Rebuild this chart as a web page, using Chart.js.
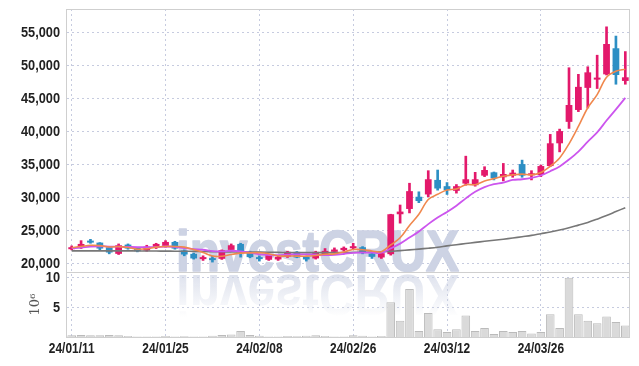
<!DOCTYPE html>
<html><head><meta charset="utf-8">
<script src="https://cdn.jsdelivr.net/npm/chart.js@4.4.1/dist/chart.umd.min.js"></script>
<style>html,body{margin:0;padding:0;background:#fff}#wrap{width:639px;height:366px;position:relative}</style>
</head><body><div id="wrap"><canvas id="c"></canvas></div>
<script>
const dates = ['24/01/11','24/01/12','24/01/15','24/01/16','24/01/17','24/01/18','24/01/19','24/01/22','24/01/23','24/01/24',
'24/01/25','24/01/26','24/01/29','24/01/30','24/01/31','24/02/01','24/02/02','24/02/05','24/02/06','24/02/07',
'24/02/08','24/02/13','24/02/14','24/02/15','24/02/16','24/02/19','24/02/20','24/02/21','24/02/22','24/02/23',
'24/02/26','24/02/27','24/02/28','24/02/29','24/03/04','24/03/05','24/03/06','24/03/07','24/03/08','24/03/11',
'24/03/12','24/03/13','24/03/14','24/03/15','24/03/18','24/03/19','24/03/20','24/03/21','24/03/22','24/03/25',
'24/03/26','24/03/27','24/03/28','24/03/29','24/04/01','24/04/02','24/04/03','24/04/04','24/04/05','24/04/08'];
const open  = [22100,22400,23300,23100,22400,21400,22800,22300,21900,22300,22600,23200,21900,21400,20600,20600,20650,22000,22900,21650,
20900,20500,20550,20950,21700,20950,20700,21300,21700,21950,22250,22400,21450,20850,21350,27400,28200,30050,30400,32600,
31650,30950,32050,31800,33250,33750,33000,33250,35000,33300,33350,34700,38150,41400,43200,46550,47800,48600,52550,47600];
const high  = [22600,23400,23600,23100,22400,22900,22900,22300,22700,23000,23400,23300,22000,21500,21100,21050,22000,22900,23000,21800,
21100,21300,21100,21800,21750,21000,21800,22200,22300,22450,23000,22500,21500,21600,27400,28800,32100,30800,34000,34100,
32200,31900,36200,33750,34600,33800,35100,34100,35600,34000,34850,39500,40300,49600,48600,49750,51500,55800,54400,52050];
const low   = [22000,22200,23000,22000,21400,21300,22100,21700,21800,22200,22400,22100,21100,20600,20400,20150,20550,21900,20900,20800,
20300,20400,20400,20850,20800,20300,20600,21200,21600,21800,22100,21400,20700,20700,21200,26050,27600,29150,30050,31050,
30400,30600,31800,31650,33100,32600,32450,33000,33000,32600,33100,34600,36850,40400,42950,43500,46450,48500,47100,47100];
const close = [22400,22900,23100,22200,21600,22700,22200,21800,22500,22900,23200,22200,21300,20700,20750,20450,21950,22700,21700,20900,
20600,21200,20950,21700,20850,20550,21700,21850,22050,22300,22400,21500,20950,21500,27400,27800,30900,29400,32700,31300,
31050,31650,32700,32700,34100,32850,33500,33700,33250,33550,34700,38150,40000,43950,46700,48900,48100,53200,48500,48150];
const ma5   = [22350,22500,22700,22650,22440,22500,22360,22100,22160,22420,22520,22520,22420,22060,21620,21080,21030,21310,21510,21550,
21570,21420,21070,21070,21060,21050,21150,21330,21400,21690,22060,22020,21840,21730,22750,23830,25710,27400,29640,30420,
31070,31220,31880,31880,32440,32800,33170,33370,33480,33370,33740,34670,35930,38070,40700,43540,45530,48170,49080,49370];
const ma10  = [22250,22350,22500,22550,22500,22480,22450,22420,22420,22430,22510,22440,22260,22110,22020,21800,21775,21865,21785,21585,
21325,21225,21190,21290,21305,21310,21285,21200,21235,21375,21555,21585,21585,21565,22220,22945,23865,24800,25900,26900,
27750,28700,29800,30800,31500,31950,32200,32600,32700,32900,33270,33920,34650,35700,36900,38400,39800,41600,43300,45035];
const maLong = [21850,21850,21850,21850,21850,21850,21850,21840,21830,21820,21810,21800,21790,21770,21750,21730,21710,21700,21690,21680,
21660,21640,21620,21600,21590,21580,21580,21580,21590,21600,21620,21640,21660,21690,21780,21880,22000,22120,22250,22400,
22600,22780,22960,23130,23300,23460,23620,23800,24000,24200,24450,24700,25000,25350,25750,26150,26650,27200,27800,28400];
const volume = [0.3,0.35,0.3,0.3,0.35,0.3,0.15,0.1,0.1,0.1,0.15,0.1,0.12,0.1,0.1,0.2,0.35,0.4,1.0,0.35,
0.2,0.1,0.1,0.15,0.12,0.2,0.3,0.15,0.1,0.1,0.3,0.2,0.1,0.15,5.8,2.7,8.0,1.0,4.0,1.3,
0.85,1.3,3.6,1.0,1.5,0.5,1.0,0.85,1.0,0.6,0.85,3.8,1.5,9.9,3.8,2.7,2.3,3.4,2.5,1.9];
const priceTicks = [20000,25000,30000,35000,40000,45000,50000,55000];
const volumeTicks = [5,10];
const WATERMARK = 'investCRUX';

const UP = '#E3196B', DOWN = '#2D8FC4';
const candleColor = open.map((o,i) => close[i] >= o ? UP : DOWN);
const GRID = '#C6CBDF';

function narrowText(ctx, t, x, y, align, size) {
  ctx.save();
  ctx.font = 'bold ' + size + 'px "Liberation Sans", Arial, sans-serif';
  ctx.textBaseline = 'middle';
  ctx.textAlign = align;
  ctx.translate(x, y);
  ctx.scale(0.85, 1);
  ctx.fillText(t, 0, 0);
  ctx.restore();
}

const wmPlugin = {
  id: 'wm',
  beforeDatasetsDraw(chart) {
    const ctx = chart.ctx;
    ctx.save();
    ctx.font = 'bold 57px "Liberation Sans", sans-serif';
    const w = ctx.measureText(WATERMARK).width;
    ctx.translate(176, 271);
    ctx.scale(283 / w, 1);
    ctx.fillStyle = 'rgb(205,211,228)';
    ctx.strokeStyle = 'rgb(205,211,228)';
    ctx.lineWidth = 1.6;
    ctx.lineJoin = 'round';
    ctx.fillText(WATERMARK, 0, 0);
    ctx.strokeText(WATERMARK, 0, 0);
    ctx.scale(1, -1);
    const g = ctx.createLinearGradient(0, -4, 0, -46);
    g.addColorStop(0, 'rgba(205,211,228,0.65)');
    g.addColorStop(1, 'rgba(205,211,228,0.0)');
    ctx.fillStyle = g;
    ctx.fillText(WATERMARK, 0, -4);
    ctx.restore();
  }
};
const framePlugin = {
  id: 'frame',
  afterDraw(chart) {
    const ctx = chart.ctx, ca = chart.chartArea;
    ctx.save();
    ctx.strokeStyle = '#CFCFCF';
    ctx.lineWidth = 1;
    ['y','yv'].forEach(id => {
      const s = chart.scales[id];
      ctx.strokeRect(Math.round(ca.left) - 0.5, Math.round(s.top) + 0.5, Math.round(ca.right - ca.left), Math.round(s.bottom - s.top));
    });
    ctx.fillStyle = '#222';
    const ys = chart.scales.y, yv = chart.scales.yv, xs = chart.scales.x;
    priceTicks.forEach(v => narrowText(ctx, v.toLocaleString('en-US'), 60, ys.getPixelForValue(v) + 1, 'right', 15));
    volumeTicks.forEach(v => narrowText(ctx, String(v), 60, yv.getPixelForValue(v) + 1, 'right', 15));
    dates.forEach((d, i) => { if (i % 10 === 0) narrowText(ctx, d, xs.getPixelForValue(i), 349, 'center', 14); });
    ctx.restore();
  }
};

new Chart(document.getElementById('c'), {
  data: {
    labels: dates,
    datasets: [
      { type: 'line', data: ma5, yAxisID: 'y', borderColor: '#F0884E', borderWidth: 1.6, pointRadius: 0, tension: 0.35, order: 0 },
      { type: 'line', data: ma10, yAxisID: 'y', borderColor: '#CC55EE', borderWidth: 1.8, pointRadius: 0, tension: 0.35, order: 0 },
      { type: 'line', data: maLong, yAxisID: 'y', borderColor: '#777777', borderWidth: 1.6, pointRadius: 0, tension: 0.35, order: 0 },
      { type: 'bar', data: open.map((o,i) => [o, close[i]]), yAxisID: 'y', backgroundColor: candleColor, grouped: false,
        barPercentage: 0.72, categoryPercentage: 1, minBarLength: 2, order: 2 },
      { type: 'bar', data: low.map((l,i) => [l, high[i]]), yAxisID: 'y', backgroundColor: candleColor, grouped: false,
        barThickness: 2, order: 3 },
      { type: 'bar', data: volume, yAxisID: 'yv', backgroundColor: '#DADADA', borderColor: '#BBBBBB', borderWidth: 1,
        grouped: false, barPercentage: 0.92, categoryPercentage: 1, order: 5 }
    ]
  },
  options: {
    responsive: true, maintainAspectRatio: false, animation: false, devicePixelRatio: 1,
    layout: { padding: { left: 12, right: 9, top: 9, bottom: 0 } },
    plugins: { legend: { display: false }, tooltip: { enabled: false } },
    scales: {
      x: {
        type: 'category', offset: true,
        grid: { offset: false, drawTicks: false, color: c => (c.index % 10 === 0 ? GRID : 'rgba(0,0,0,0)') },
        border: { display: false, dash: [2, 3] },
        ticks: { display: false, autoSkip: false },
        afterFit: s => { s.height = 29; s.paddingLeft = 0; s.paddingRight = 0; }
      },
      y: {
        position: 'left', stack: 'p', stackWeight: 4.05, weight: 2,
        min: 18640, max: 58500,
        afterBuildTicks: s => { s.ticks = priceTicks.map(v => ({ value: v })); },
        grid: { drawTicks: false, color: GRID },
        border: { display: false, dash: [2, 3] },
        ticks: { display: false },
        afterFit: s => { s.width = 55; s.paddingTop = 0; s.paddingBottom = 0; }
      },
      yv: {
        position: 'left', stack: 'p', stackWeight: 1, weight: 1,
        min: 0, max: 10.83,
        afterBuildTicks: s => { s.ticks = volumeTicks.map(v => ({ value: v })); },
        grid: { drawTicks: false, color: GRID },
        border: { display: false, dash: [2, 3] },
        ticks: { display: false },
        title: { display: true, text: '10⁶', color: '#555', font: { family: '"DejaVu Serif", serif', size: 13 }, padding: { top: 16, bottom: 0 } },
        afterFit: s => { s.width = 55; s.paddingTop = 0; s.paddingBottom = 0; }
      }
    }
  },
  plugins: [wmPlugin, framePlugin]
});
</script>
</body></html>
